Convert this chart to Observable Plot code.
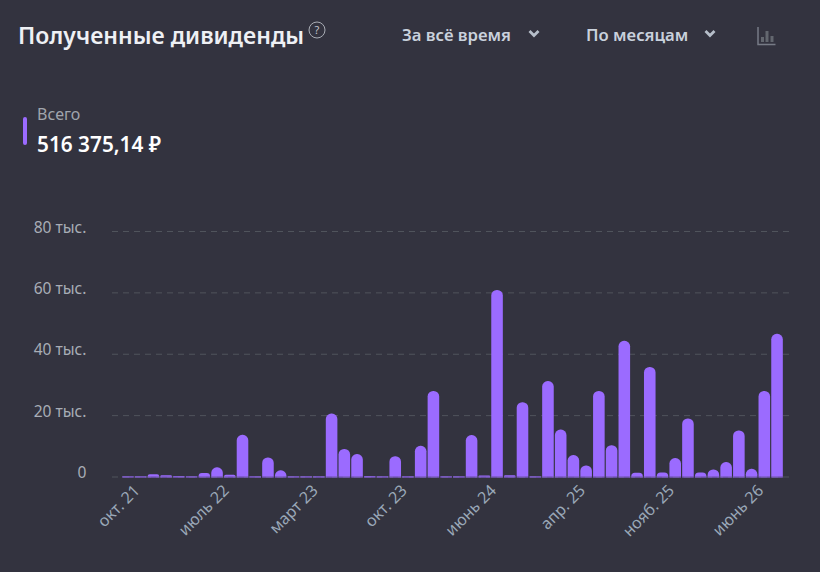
<!DOCTYPE html>
<html lang="ru">
<head>
<meta charset="utf-8">
<script src="https://cdn.jsdelivr.net/npm/d3@7"></script>
<script src="https://cdn.jsdelivr.net/npm/@observablehq/plot@0.6"></script>
<style>
html,body{margin:0;padding:0;background:#33333f;width:820px;height:572px;overflow:hidden;font-family:"Noto Sans",sans-serif}
#header{position:relative;width:820px;height:200px}
#header>*{position:absolute;white-space:nowrap}
#title{left:18px;top:18px;font-size:23px;font-weight:600;color:#eef0f4;line-height:34px}
.sel{top:24px;font-size:16.700px;font-weight:600;color:#c9d1dc;line-height:22px}
#total{left:37px;top:103px;font-size:16px;font-weight:400;color:#a0a5ad;line-height:22px}
#sum{left:37px;top:130px;font-size:20.800px;font-weight:600;color:#fff;line-height:28px}
#mark{left:23px;top:117px;width:4px;height:28px;border-radius:2px;background:#9b6bff}
#chart{display:block;width:820px;height:372px}
</style>
</head>
<body>
<div id="header">
  <div id="title">Полученные дивиденды</div>
  <svg style="left:307px;top:20px" width="20" height="20" viewBox="0 0 20 20"><circle cx="10" cy="10" r="8" fill="none" stroke="#a9adb5" stroke-width="1"/><text x="10" y="14" text-anchor="middle" font-size="11" fill="#c0c4cc" font-family="Noto Sans">?</text></svg>
  <div class="sel" style="left:402px">За всё время</div>
  <svg style="left:527px;top:29px" width="14" height="10" viewBox="0 0 14 10"><path d="M2.500 2 L7 6.500 L11.500 2" fill="none" stroke="#b6bec9" stroke-width="2.800"/></svg>
  <div class="sel" style="left:586px">По месяцам</div>
  <svg style="left:703px;top:29px" width="14" height="10" viewBox="0 0 14 10"><path d="M2.500 2 L7 6.500 L11.500 2" fill="none" stroke="#b6bec9" stroke-width="2.800"/></svg>
  <svg style="left:756px;top:26px" width="20" height="20" viewBox="0 0 20 20"><path d="M2 1 V18.500 H19.500" fill="none" stroke="#777b86" stroke-width="1.500"/><path d="M6.500 11 V16 M11 5 V16 M16 10 V16" fill="none" stroke="#63676f" stroke-width="3"/></svg>
  <div id="mark"></div>
  <div id="total">Всего</div>
  <div id="sum">516 375,14 ₽</div>
</div>
<div id="holder"></div>
<script>
const barIndex = d3.range(52);
const dividends = [
  50,50,700,400,200,50,1100,3000,600,13600,
  50,6200,2000,50,50,50,20500,9000,7300,150,
  100,6600,100,10000,27900,100,100,13500,300,60800,
  400,24200,100,31100,15300,7000,3600,27900,10200,44200,
  1200,35700,1300,6000,18900,1300,2300,4700,15000,2500,
  27900,46500
];
const tickIndex = [1,8,15,22,29,36,43,50];
const tickLabels = ["окт. 21","июль 22","март 23","окт. 23","июнь 24","апр. 25","нояб. 25","июнь 26"];
const yTicks = [0,20000,40000,60000,80000];
const yLabels = ["0","20 тыс.","40 тыс.","60 тыс.","80 тыс."];

const table = barIndex.map((i) => ({i, value: dividends[i]}));
const purple = "#9b6bff";

const chart = Plot.plot({
  width: 820,
  height: 372,
  marginTop: 31,
  marginBottom: 95.5,
  marginLeft: 112,
  marginRight: 30,
  style: {background: "transparent", fontFamily: "'Noto Sans',sans-serif", overflow: "visible"},
  x: {type: "band", domain: barIndex, range: [121.6, 783.4], paddingInner: 0.09, paddingOuter: 0.045},
  y: {domain: [0, 80000], grid: false},
  marks: [
    Plot.ruleY(yTicks, {stroke: "#50545c", strokeWidth: 1, strokeDasharray: "6 5"}),
    Plot.barY(table, {x: "i", y: "value", fill: purple, rx1y1: 5.5, rx2y1: 5.5}),
    Plot.tickY(table, {x: "i", y: () => 0, stroke: purple, strokeWidth: 1}),
    Plot.axisY({ticks: yTicks, tickFormat: (d) => yLabels[yTicks.indexOf(d)], tickSize: 0, tickPadding: 26, dy: -4, fontSize: 15.6, fontWeight: 400, color: "#a8adb6", label: null}),
    Plot.axisX({ticks: tickIndex, tickFormat: (d) => tickLabels[tickIndex.indexOf(d)], tickSize: 0, tickPadding: 11, dx: -4, tickRotate: -45, textAnchor: "end", fontSize: 16, fontWeight: 400, color: "#9aa8b8", label: null})
  ]
});
chart.id = "chart";
document.getElementById("holder").appendChild(chart);
</script>
</body>
</html>
